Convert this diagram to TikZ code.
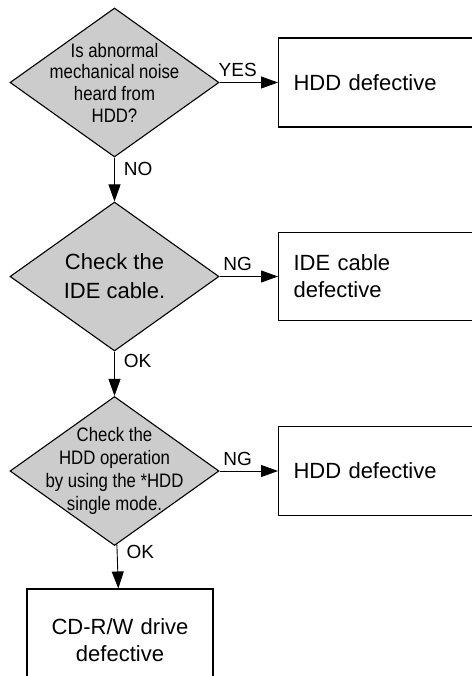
\documentclass[tikz,border=0pt]{standalone}
\usepackage{fontspec}
\setmainfont{Liberation Sans}
\newfontfamily\condfont[FakeStretch=0.86]{Liberation Sans}
\usetikzlibrary{shapes.geometric,arrows.meta}

\tikzset{
  question/.style={diamond, draw, line width=1.1pt, fill=black!20,
                   minimum width=209pt, minimum height=149pt,
                   inner sep=-40pt, align=center},
  result/.style={rectangle, draw, line width=1.1pt, inner xsep=15pt,
                 font=\fontsize{22}{27}\selectfont},
  flow/.style={-{Triangle[length=17pt,width=12pt]}, line width=0.9pt},
  answer/.style={font=\fontsize{19}{21}\selectfont, inner sep=3pt}
}

\begin{document}
\begin{tikzpicture}[x=1pt,y=-1pt]
			\useasboundingbox (0,0) rectangle (471,676);
			% questions
			\node (Qn) at (114.5,82.5) [question, font=\condfont\fontsize{19.5}{21.7}\selectfont]
				{Is abnormal\\mechanical noise\\heard from\\HDD?};
			\node (Qc) at (114.5,276.5) [question, font=\fontsize{22}{29}\selectfont]
				{Check the\\IDE cable.};
			\node (Qs) at (114.5,471) [question, font=\condfont\fontsize{19.5}{22.7}\selectfont]
				{Check the\\HDD operation\\by using the *HDD\\single mode.};
			% results
			\node (Rn) at (278,82.5) [result, anchor=west, minimum height=89pt,
				text width=200pt, align=left] {HDD defective};
			\node (Rc) at (278,276.5) [result, anchor=west, minimum height=88pt,
				text width=200pt, align=left] {IDE cable\\defective};
			\node (Rs) at (278,471) [result, anchor=west, minimum height=89pt,
				text width=200pt, align=left] {HDD defective};
			\node (Rd) at (120,640) [result, minimum height=102pt,
				text width=156pt, align=center] {CD-R/W drive\\defective};
			% arrows
			\draw[flow] (Qn) -- node[answer, above=2pt, pos=.31] {YES} (Rn);
			\draw[flow] (Qc) -- node[answer, above=2pt, pos=.31] {NG} (Rc);
			\draw[flow] (Qs) -- node[answer, above=2pt, pos=.31] {NG} (Rs);
			\draw[flow] (Qn) -- node[answer, right=6pt, pos=.26] {NO} (Qc);
			\draw[flow] (Qc) -- node[answer, right=6pt, pos=.22] {OK} (Qs);
			\draw[flow] (Qs) -- node[answer, right=6pt, pos=.18] {OK} (Rd);
		\end{tikzpicture}
\end{document}
